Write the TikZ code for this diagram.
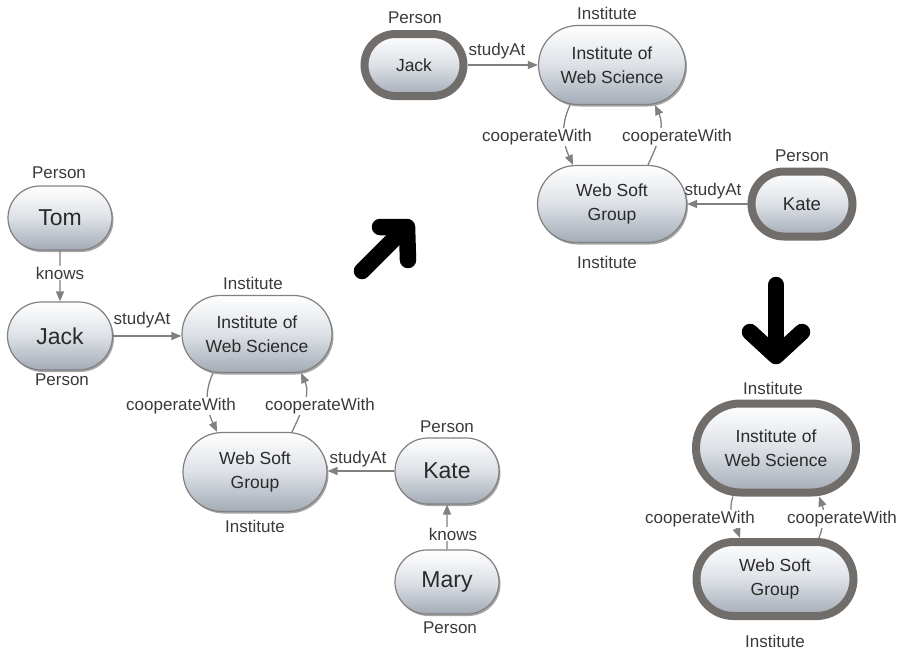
\documentclass[tikz,border=0pt]{standalone}
\usepackage{fontspec}
\setmainfont{Liberation Sans}
\usetikzlibrary{arrows.meta,shadows,calc,shapes.misc}
\definecolor{edgegray}{HTML}{808080}
\definecolor{thickgray}{HTML}{716D6B}
\definecolor{nodebot}{HTML}{A3ABB6}
\definecolor{nodemid}{HTML}{DDE1E6}
\definecolor{txt}{HTML}{2A2A2A}
\definecolor{lbltxt}{HTML}{3A3A3A}
\tikzset{
  ent/.style={rounded rectangle, rounded rectangle arc length=180,
    draw=edgegray, line width=1.2pt,
    top color=white, bottom color=nodebot, middle color=nodemid,
    drop shadow={shadow xshift=1.5pt, shadow yshift=-2pt, opacity=0.35, fill=black},
    align=center, inner sep=0pt, text=txt,
    font=\fontsize{17.5}{24.5}\selectfont},
  bigname/.style={font=\fontsize{23}{27}\selectfont},
  thick ent/.style={ent, draw=thickgray, line width=8pt},
  lbl/.style={text=lbltxt, inner sep=1pt, font=\fontsize{17}{20}\selectfont},
  elbl/.style={lbl, fill=white},
  edge/.style={draw=edgegray, line width=1.3pt, -{Triangle[length=10pt,width=8pt]}},
  bigarrow/.style={line width=16.5pt, line cap=round, line join=round, black}
}
\begin{document}
\begin{tikzpicture}[x=1pt,y=1pt]
\useasboundingbox (0,0) rectangle (902,-653);
% ---------- left graph ----------
\node[ent, bigname, minimum width=104pt, minimum height=64pt] (tom) at (60,-218) {Tom};
\node[ent, bigname, minimum width=105pt, minimum height=68pt] (jack) at (60,-336) {Jack};
\node[ent, minimum width=150pt, minimum height=77pt] (inst) at (257,-334) {Institute of\\Web Science};
\node[ent, minimum width=144pt, minimum height=79pt] (wsg) at (255,-472) {Web Soft\\Group};
\node[ent, bigname, minimum width=104pt, minimum height=66pt] (kate) at (447,-471) {Kate};
\node[ent, bigname, minimum width=104pt, minimum height=64pt] (mary) at (447,-582) {Mary};

\draw[edge] (tom) -- (jack);
\draw[edge] (jack.east) -- (jack.east -| inst.west);
\draw[edge] (kate.west) -- (kate.west -| wsg.east);
\draw[edge] (mary) -- (kate);
\draw[edge] ($(inst.south)+(-44,0)$) to[out=245,in=115] ($(wsg.north)+(-38,0)$);
\draw[edge] ($(wsg.north)+(37,0)$) to[out=65,in=-65] ($(inst.south)+(44,0)$);

\node[lbl] (tomtype) at (59,-173) {Person};
\node[elbl] (knows1) at (60,-273) {knows};
\node[lbl] (jacktype) at (62,-380) {Person};
\node[lbl] (insttype) at (253,-283) {Institute};
\node[lbl] (study1) at (142,-320) {studyAt};
\node[elbl] (coop1) at (181,-406) {cooperateWith};
\node[elbl] (coop2) at (320,-406) {cooperateWith};
\node[lbl] (wsgtype) at (255,-526) {Institute};
\node[lbl] (study2) at (358,-459) {studyAt};
\node[lbl] (katetype) at (447,-427) {Person};
\node[elbl] (knows2) at (453,-534) {knows};
\node[lbl] (marytype) at (450,-628) {Person};

% ---------- top right graph ----------
\node[thick ent, font=\fontsize{17.5}{24}\selectfont, minimum width=99pt, minimum height=62pt] (jackb) at (414,-65) {Jack};
\node[ent, minimum width=147pt, minimum height=79pt] (instb) at (612,-65) {Institute of\\Web Science};
\node[ent, minimum width=149pt, minimum height=77pt] (wsgb) at (612,-204) {Web Soft\\Group};
\node[thick ent, font=\fontsize{18.5}{24}\selectfont, minimum width=101pt, minimum height=65pt] (kateb) at (802,-204) {Kate};

\draw[edge] (jackb.east) -- (jackb.east -| instb.west);
\draw[edge] (kateb.west) -- (kateb.west -| wsgb.east);
\draw[edge] ($(instb.south)+(-42,0)$) to[out=245,in=115] ($(wsgb.north)+(-39,0)$);
\draw[edge] ($(wsgb.north)+(36,0)$) to[out=65,in=-65] ($(instb.south)+(43,0)$);

\node[lbl] (jackbtype) at (415,-18) {Person};
\node[lbl] (instbtype) at (607,-13) {Institute};
\node[lbl] (study3) at (497,-51) {studyAt};
\node[elbl] (coop3) at (537,-137) {cooperateWith};
\node[elbl] (coop4) at (677,-137) {cooperateWith};
\node[lbl] (katebtype) at (802,-156) {Person};
\node[lbl] (wsgbtype) at (607,-262) {Institute};
\node[lbl] (study4) at (713,-191) {studyAt};

% ---------- bottom right graph ----------
\node[thick ent, minimum width=160pt, minimum height=89pt] (instc) at (776,-448) {Institute of\\Web Science};
\node[thick ent, minimum width=157pt, minimum height=74pt] (wsgc) at (775,-579) {Web Soft\\Group};

\draw[edge] ($(instc.south)+(-43,0)$) to[out=250,in=110] ($(wsgc.north)+(-35,0)$);
\draw[edge] ($(wsgc.north)+(44,0)$) to[out=70,in=-70] ($(instc.south)+(43,0)$);

\node[lbl] (instctype) at (773,-388) {Institute};
\node[elbl] (coop5) at (700,-519) {cooperateWith};
\node[elbl] (coop6) at (842,-519) {cooperateWith};
\node[lbl] (wsgctype) at (775,-641) {Institute};

% ---------- big transition arrows ----------
\draw[bigarrow] (362,-271) -- (405,-228);
\draw[bigarrow] (380,-227) -- (407,-227) -- (408,-260);
\draw[bigarrow] (776,-285) -- (776,-353);
\draw[bigarrow] (750,-332) -- (776,-356) -- (802,-332);
\end{tikzpicture}
\end{document}
